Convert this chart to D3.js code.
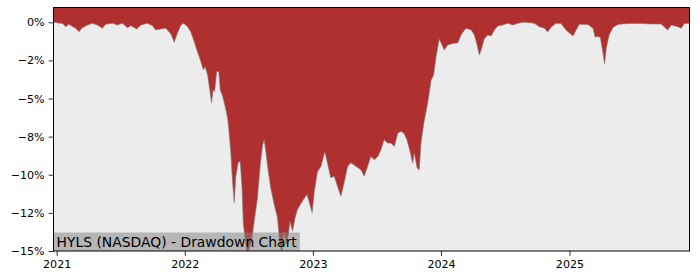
<!DOCTYPE html>
<html>
<head>
<meta charset="utf-8">
<script src="https://cdn.jsdelivr.net/npm/d3@7"></script>
<style>
  body { margin: 0; background: #fff; }
  #graf { width: 700px; height: 280px; }
  text { font-family: 'DejaVu Sans', sans-serif; fill: #000; }
</style>
</head>
<body>
<div id="graf"></div>
<script>
const titulo = 'HYLS (NASDAQ) - Drawdown Chart'

const fechas = [
  '2020-12-23', '2020-12-26', '2021-01-07', '2021-01-18', '2021-01-27', '2021-02-04', '2021-02-24', '2021-03-06',
  '2021-03-13', '2021-03-30', '2021-04-13', '2021-04-27', '2021-05-11', '2021-05-21', '2021-06-09', '2021-06-23',
  '2021-07-07', '2021-07-22', '2021-07-31', '2021-08-17', '2021-08-29', '2021-09-17', '2021-10-01', '2021-10-10',
  '2021-10-25', '2021-11-08', '2021-11-17', '2021-11-24', '2021-12-02', '2021-12-09', '2021-12-21', '2021-12-29',
  '2022-01-09', '2022-01-18', '2022-01-28', '2022-02-06', '2022-02-16', '2022-02-23', '2022-02-28', '2022-03-07',
  '2022-03-14', '2022-03-18', '2022-03-23', '2022-03-27', '2022-04-02', '2022-04-08', '2022-04-12', '2022-04-19',
  '2022-04-25', '2022-05-03', '2022-05-07', '2022-05-12', '2022-05-17', '2022-05-22', '2022-05-26', '2022-06-02',
  '2022-06-08', '2022-06-13', '2022-06-17', '2022-06-24', '2022-06-28', '2022-07-03', '2022-07-10', '2022-07-18',
  '2022-07-27', '2022-08-04', '2022-08-11', '2022-08-15', '2022-08-20', '2022-08-27', '2022-09-03', '2022-09-13',
  '2022-09-22', '2022-09-29', '2022-10-05', '2022-10-11', '2022-10-16', '2022-10-23', '2022-10-28', '2022-11-04',
  '2022-11-11', '2022-11-18', '2022-11-26', '2022-12-05', '2022-12-15', '2022-12-21', '2022-12-30', '2023-01-05',
  '2023-01-14', '2023-01-24', '2023-02-04', '2023-02-12', '2023-02-21', '2023-03-03', '2023-03-12', '2023-03-22',
  '2023-03-31', '2023-04-10', '2023-04-19', '2023-05-04', '2023-05-18', '2023-05-27', '2023-06-06', '2023-06-15',
  '2023-06-25', '2023-07-05', '2023-07-14', '2023-07-23', '2023-08-02', '2023-08-11', '2023-08-21', '2023-08-31',
  '2023-09-09', '2023-09-17', '2023-09-26', '2023-10-06', '2023-10-12', '2023-10-17', '2023-10-25', '2023-10-31',
  '2023-11-05', '2023-11-13', '2023-11-24', '2023-12-04', '2023-12-11', '2023-12-18', '2023-12-27', '2024-01-04',
  '2024-01-10', '2024-01-20', '2024-01-30', '2024-02-08', '2024-02-18', '2024-02-27', '2024-03-12', '2024-03-27',
  '2024-04-05', '2024-04-13', '2024-04-19', '2024-04-26', '2024-05-03', '2024-05-13', '2024-05-23', '2024-06-01',
  '2024-06-11', '2024-06-25', '2024-07-09', '2024-07-24', '2024-08-07', '2024-08-21', '2024-09-04', '2024-09-23',
  '2024-10-07', '2024-10-22', '2024-10-31', '2024-11-10', '2024-11-24', '2024-12-08', '2024-12-22', '2025-01-02',
  '2025-01-11', '2025-01-20', '2025-01-29', '2025-02-22', '2025-03-09', '2025-03-15', '2025-03-23', '2025-03-30',
  '2025-04-06', '2025-04-11', '2025-04-16', '2025-04-24', '2025-05-05', '2025-05-19', '2025-06-16', '2025-07-24',
  '2025-08-22', '2025-09-19', '2025-10-08', '2025-10-18', '2025-11-06', '2025-11-15', '2025-11-25', '2025-12-09',
]

// drawdown in %
const drawdown = [
  0, 0, -0.05, -0.08, -0.29, -0.13, -0.39, -0.62,
  -0.39, -0.18, -0.07, -0.18, -0.39, -0.13, -0.07, -0.18,
  -0.07, -0.35, -0.22, -0.44, -0.18, -0.07, -0.22, -0.50,
  -0.44, -0.39, -0.62, -0.83, -1.31, -0.83, -0.18, -0.07,
  -0.29, -0.62, -1.27, -1.92, -2.58, -3.12, -2.91, -3.45,
  -4.54, -5.28, -4.43, -4.54, -3.23, -3.25, -4.43, -4.87,
  -5.41, -6.28, -7.16, -8.47, -10.43, -11.83, -10.19, -9.21,
  -9.12, -10.84, -13.27, -14.57, -15.1, -14.9, -14.36, -13.05,
  -11.52, -9.34, -8.03, -7.70, -8.47, -9.78, -10.86, -11.96,
  -12.81, -14.57, -15.1, -13.70, -14.57, -13.92, -13.05, -13.70,
  -12.83, -12.28, -11.96, -11.63, -11.30, -11.74, -12.48, -11.09,
  -9.80, -9.45, -8.47, -9.27, -10.19, -10.10, -10.76, -11.41,
  -10.52, -9.45, -9.21, -9.45, -9.67, -10.10, -9.45, -8.80,
  -9.01, -8.80, -8.36, -7.70, -7.92, -7.92, -8.14, -7.26,
  -7.16, -7.26, -7.70, -8.57, -9.23, -8.57, -9.55, -9.67,
  -7.92, -6.61, -5.30, -3.78, -3.45, -2.25, -1.09, -1.49,
  -1.81, -1.49, -1.42, -1.37, -1.35, -0.83, -0.39, -0.50,
  -0.83, -1.49, -2.14, -1.70, -1.09, -0.83, -0.90, -0.50,
  -0.24, -0.18, -0.07, -0.18, -0.07, 0, -0.01, -0.07,
  -0.29, -0.39, -0.63, -0.31, -0.07, -0.08, -0.50, -0.72,
  -0.90, -0.50, -0.13, -0.14, -0.39, -0.96, -0.94, -0.99,
  -1.94, -2.73, -1.68, -0.83, -0.34, -0.14, -0.08, -0.08,
  -0.11, -0.11, -0.50, -0.18, -0.29, -0.39, -0.08, -0.07,
]

const yTicks = [0, -2.5, -5, -7.5, -10, -12.5, -15]
const yTickLabels = ['0%', '\u22122%', '\u22125%', '\u22128%', '\u221210%', '\u221212%', '\u221215%']
const xTickYears = [2021, 2022, 2023, 2024, 2025]

const anchoTotal = 700
const altoTotal = 280
const margin = { top: 7.5, bottom: 29, left: 53.5, right: 10.5 }
const ancho = anchoTotal - margin.left - margin.right
const alto = altoTotal - margin.top - margin.bottom

const parse = d3.timeParse('%Y-%m-%d')
const data = fechas.map((f, i) => ({ fecha: parse(f), dd: drawdown[i] }))

const svg = d3.select('#graf')
  .append('svg')
  .attr('width', anchoTotal)
  .attr('height', altoTotal)

const g = svg.append('g')
  .attr('transform', `translate(${margin.left}, ${margin.top})`)

const x = d3.scaleTime()
  .domain(d3.extent(data, d => d.fecha))
  .range([0, ancho])

const y = d3.scaleLinear()
  .domain([-15, 0.97])
  .range([alto, 0])

g.append('rect')
  .attr('width', ancho)
  .attr('height', alto)
  .attr('fill', '#ececec')

g.append('clipPath')
  .attr('id', 'clip')
  .append('rect')
  .attr('width', ancho)
  .attr('height', alto)

const area = d3.area()
  .x(d => x(d.fecha))
  .y0(0)
  .y1(d => y(d.dd))

const linea = d3.line()
  .x(d => x(d.fecha))
  .y(d => y(d.dd))

const plot = g.append('g').attr('clip-path', 'url(#clip)')

plot.append('path')
  .datum(data)
  .attr('d', area)
  .attr('fill', '#b03030')

plot.append('path')
  .datum(data)
  .attr('d', linea)
  .attr('fill', 'none')
  .attr('stroke', '#7a7a7a')
  .attr('stroke-width', 0.8)
  .attr('stroke-opacity', 0.8)

// caja del titulo
const cajaG = g.append('g')
const txt = cajaG.append('text')
  .attr('x', 3)
  .attr('y', alto - 4.5)
  .attr('font-size', '13.9px')
  .text(titulo)
const tw = txt.node().getComputedTextLength()
cajaG.insert('rect', 'text')
  .attr('x', 0)
  .attr('y', alto - 18.5)
  .attr('width', tw + 6)
  .attr('height', 18.5)
  .attr('fill', '#808080')
  .attr('fill-opacity', 0.5)

const yAxis = g.append('g')
  .call(d3.axisLeft(y)
    .tickValues(yTicks)
    .tickSize(4.9)
    .tickPadding(4)
    .tickFormat((d, i) => yTickLabels[i]))

const xAxis = g.append('g')
  .attr('transform', `translate(0, ${alto})`)
  .call(d3.axisBottom(x)
    .tickValues(xTickYears.map(a => new Date(a, 0, 1)))
    .tickSize(4.9)
    .tickPadding(4)
    .tickFormat(d3.timeFormat('%Y')))

svg.selectAll('.domain').remove()
svg.selectAll('.tick text')
  .attr('font-family', "'DejaVu Sans', sans-serif")
  .attr('font-size', '11.1px')
svg.selectAll('.tick line').attr('stroke', '#000').attr('stroke-width', 0.8)

g.append('rect')
  .attr('width', ancho)
  .attr('height', alto)
  .attr('fill', 'none')
  .attr('stroke', '#000')
  .attr('stroke-width', 1)
</script>
</body>
</html>
